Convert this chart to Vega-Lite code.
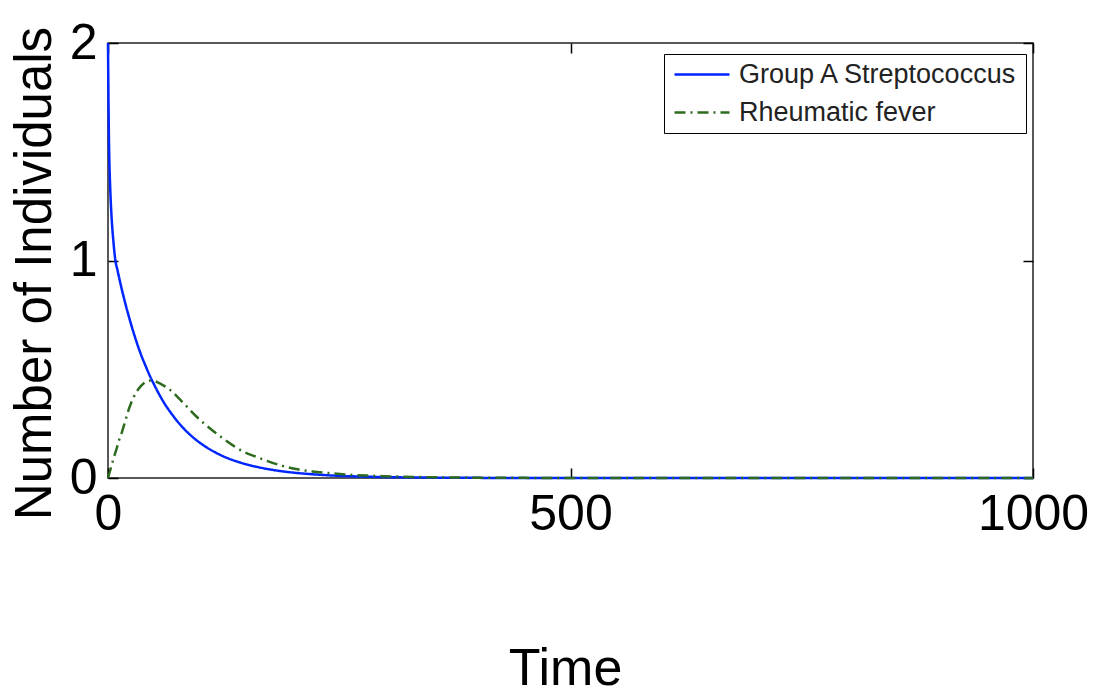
{
  "$schema": "https://vega.github.io/schema/vega-lite/v6.json",
  "autosize": "none",
  "width": 925,
  "height": 435,
  "padding": {"left": 108, "top": 43, "right": 63, "bottom": 219},
  "background": "white",
  "config": {
    "font": "Liberation Sans",
    "view": {"stroke": "#222222", "strokeWidth": 1.5},
    "axis": {
      "grid": false,
      "domain": false,
      "tickColor": "#000000",
      "tickWidth": 1.5,
      "tickSize": -10,
      "labelColor": "#000000",
      "titleColor": "#000000",
      "labelFont": "Liberation Sans",
      "titleFont": "Liberation Sans",
      "titleFontWeight": "normal",
      "labelOverlap": false
    }
  },
  "data": {
    "values": [
      {"t": 0, "v": 2.0, "s": "Group A Streptococcus"},
      {"t": 0.5, "v": 1.75, "s": "Group A Streptococcus"},
      {"t": 1, "v": 1.56, "s": "Group A Streptococcus"},
      {"t": 1.5, "v": 1.45, "s": "Group A Streptococcus"},
      {"t": 2, "v": 1.38, "s": "Group A Streptococcus"},
      {"t": 3, "v": 1.27, "s": "Group A Streptococcus"},
      {"t": 4, "v": 1.19, "s": "Group A Streptococcus"},
      {"t": 6, "v": 1.08, "s": "Group A Streptococcus"},
      {"t": 8, "v": 1.0, "s": "Group A Streptococcus"},
      {"t": 10, "v": 0.96, "s": "Group A Streptococcus"},
      {"t": 15, "v": 0.866, "s": "Group A Streptococcus"},
      {"t": 20, "v": 0.782, "s": "Group A Streptococcus"},
      {"t": 25, "v": 0.706, "s": "Group A Streptococcus"},
      {"t": 30, "v": 0.637, "s": "Group A Streptococcus"},
      {"t": 35, "v": 0.575, "s": "Group A Streptococcus"},
      {"t": 40, "v": 0.522, "s": "Group A Streptococcus"},
      {"t": 45, "v": 0.472, "s": "Group A Streptococcus"},
      {"t": 50, "v": 0.428, "s": "Group A Streptococcus"},
      {"t": 60, "v": 0.35, "s": "Group A Streptococcus"},
      {"t": 70, "v": 0.288, "s": "Group A Streptococcus"},
      {"t": 80, "v": 0.236, "s": "Group A Streptococcus"},
      {"t": 90, "v": 0.194, "s": "Group A Streptococcus"},
      {"t": 100, "v": 0.16, "s": "Group A Streptococcus"},
      {"t": 110, "v": 0.132, "s": "Group A Streptococcus"},
      {"t": 120, "v": 0.109, "s": "Group A Streptococcus"},
      {"t": 130, "v": 0.09, "s": "Group A Streptococcus"},
      {"t": 140, "v": 0.075, "s": "Group A Streptococcus"},
      {"t": 160, "v": 0.052, "s": "Group A Streptococcus"},
      {"t": 180, "v": 0.036, "s": "Group A Streptococcus"},
      {"t": 200, "v": 0.025, "s": "Group A Streptococcus"},
      {"t": 225, "v": 0.016, "s": "Group A Streptococcus"},
      {"t": 250, "v": 0.01, "s": "Group A Streptococcus"},
      {"t": 275, "v": 0.0065, "s": "Group A Streptococcus"},
      {"t": 300, "v": 0.004, "s": "Group A Streptococcus"},
      {"t": 350, "v": 0.0016, "s": "Group A Streptococcus"},
      {"t": 400, "v": 0.0006, "s": "Group A Streptococcus"},
      {"t": 500, "v": 0.0001, "s": "Group A Streptococcus"},
      {"t": 600, "v": 0, "s": "Group A Streptococcus"},
      {"t": 700, "v": 0, "s": "Group A Streptococcus"},
      {"t": 800, "v": 0, "s": "Group A Streptococcus"},
      {"t": 900, "v": 0, "s": "Group A Streptococcus"},
      {"t": 1000, "v": 0, "s": "Group A Streptococcus"},
      {"t": 0, "v": 0, "s": "Rheumatic fever"},
      {"t": 2, "v": 0.03, "s": "Rheumatic fever"},
      {"t": 4, "v": 0.06, "s": "Rheumatic fever"},
      {"t": 6, "v": 0.09, "s": "Rheumatic fever"},
      {"t": 9, "v": 0.13, "s": "Rheumatic fever"},
      {"t": 12, "v": 0.175, "s": "Rheumatic fever"},
      {"t": 15, "v": 0.21, "s": "Rheumatic fever"},
      {"t": 18.5, "v": 0.26, "s": "Rheumatic fever"},
      {"t": 22, "v": 0.31, "s": "Rheumatic fever"},
      {"t": 25, "v": 0.345, "s": "Rheumatic fever"},
      {"t": 30, "v": 0.39, "s": "Rheumatic fever"},
      {"t": 35, "v": 0.42, "s": "Rheumatic fever"},
      {"t": 40, "v": 0.44, "s": "Rheumatic fever"},
      {"t": 46, "v": 0.448, "s": "Rheumatic fever"},
      {"t": 50, "v": 0.446, "s": "Rheumatic fever"},
      {"t": 56, "v": 0.435, "s": "Rheumatic fever"},
      {"t": 62, "v": 0.42, "s": "Rheumatic fever"},
      {"t": 70, "v": 0.395, "s": "Rheumatic fever"},
      {"t": 78, "v": 0.36, "s": "Rheumatic fever"},
      {"t": 86, "v": 0.325, "s": "Rheumatic fever"},
      {"t": 95, "v": 0.285, "s": "Rheumatic fever"},
      {"t": 104, "v": 0.25, "s": "Rheumatic fever"},
      {"t": 114, "v": 0.215, "s": "Rheumatic fever"},
      {"t": 124, "v": 0.183, "s": "Rheumatic fever"},
      {"t": 135, "v": 0.15, "s": "Rheumatic fever"},
      {"t": 147, "v": 0.12, "s": "Rheumatic fever"},
      {"t": 160, "v": 0.098, "s": "Rheumatic fever"},
      {"t": 171, "v": 0.08, "s": "Rheumatic fever"},
      {"t": 189, "v": 0.055, "s": "Rheumatic fever"},
      {"t": 205, "v": 0.04, "s": "Rheumatic fever"},
      {"t": 221, "v": 0.03, "s": "Rheumatic fever"},
      {"t": 240, "v": 0.022, "s": "Rheumatic fever"},
      {"t": 258, "v": 0.016, "s": "Rheumatic fever"},
      {"t": 280, "v": 0.011, "s": "Rheumatic fever"},
      {"t": 300, "v": 0.008, "s": "Rheumatic fever"},
      {"t": 330, "v": 0.005, "s": "Rheumatic fever"},
      {"t": 360, "v": 0.003, "s": "Rheumatic fever"},
      {"t": 400, "v": 0.0015, "s": "Rheumatic fever"},
      {"t": 450, "v": 0.0006, "s": "Rheumatic fever"},
      {"t": 500, "v": 0.0002, "s": "Rheumatic fever"},
      {"t": 600, "v": 0, "s": "Rheumatic fever"},
      {"t": 700, "v": 0, "s": "Rheumatic fever"},
      {"t": 800, "v": 0, "s": "Rheumatic fever"},
      {"t": 900, "v": 0, "s": "Rheumatic fever"},
      {"t": 1000, "v": 0, "s": "Rheumatic fever"}
    ]
  },
  "resolve": {"axis": {"x": "independent", "y": "independent"}},
  "layer": [
    {
      "mark": {"type": "line", "strokeWidth": 2.5, "interpolate": "monotone"},
      "encoding": {
        "x": {
          "field": "t", "type": "quantitative",
          "scale": {"domain": [0, 1000], "nice": false, "zero": false},
          "axis": {
            "values": [0, 500, 1000], "orient": "bottom", "format": "d",
            "labelFontSize": 50, "labelPadding": 21, "labelFlush": false, "labelOverlap": false,
            "title": "Time", "titleFontSize": 52,
            "titleX": 457, "titleY": 206, "titleAlign": "center", "titleBaseline": "alphabetic"
          }
        },
        "y": {
          "field": "v", "type": "quantitative",
          "scale": {"domain": [0, 2], "nice": false},
          "axis": {
            "values": [0, 1, 2], "orient": "left",
            "labelExpr": "datum.value == 0 ? '0' : datum.value == 1 ? '1' : '2'",
            "labelFontSize": 50, "labelPadding": 21, "labelFlush": false, "labelOverlap": false,
            "labelBaseline": "middle",
            "title": "Number of Individuals", "titleFontSize": 51,
            "titleX": -58, "titleY": 230, "titleAngle": -90,
            "titleAlign": "center", "titleBaseline": "alphabetic"
          }
        },
        "color": {
          "field": "s", "type": "nominal",
          "scale": {"domain": ["Group A Streptococcus", "Rheumatic fever"], "range": ["#0026ff", "#2e6b1f"]},
          "legend": {
            "title": null, "orient": "none", "legendX": 556, "legendY": 11,
            "strokeColor": "#000000", "fillColor": "#ffffff", "padding": 7,
            "symbolType": "M-1,0H4.5", "symbolSize": 400, "symbolStrokeWidth": 2.5,
            "labelFontSize": 27, "labelFont": "Liberation Sans", "labelColor": "#222222",
            "labelOffset": 41, "rowPadding": 10, "labelLimit": 400
          }
        },
        "strokeDash": {
          "field": "s", "type": "nominal",
          "scale": {"domain": ["Group A Streptococcus", "Rheumatic fever"], "range": [[1, 0], [11, 5, 2, 5]]},
          "legend": {
            "title": null, "orient": "none", "legendX": 556, "legendY": 11,
            "strokeColor": "#000000", "fillColor": "#ffffff", "padding": 7,
            "symbolType": "M-1,0H4.5", "symbolSize": 400, "symbolStrokeWidth": 2.5,
            "labelFontSize": 27, "labelFont": "Liberation Sans", "labelColor": "#222222",
            "labelOffset": 41, "rowPadding": 10, "labelLimit": 400
          }
        }
      }
    },
    {
      "mark": {"type": "line", "opacity": 0},
      "encoding": {
        "x": {
          "field": "t", "type": "quantitative",
          "axis": {"values": [0, 500, 1000], "orient": "top", "labels": false, "title": null}
        },
        "y": {
          "field": "v", "type": "quantitative",
          "axis": {"values": [0, 1, 2], "orient": "right", "labels": false, "title": null}
        },
        "detail": {"field": "s", "type": "nominal"}
      }
    }
  ]
}
